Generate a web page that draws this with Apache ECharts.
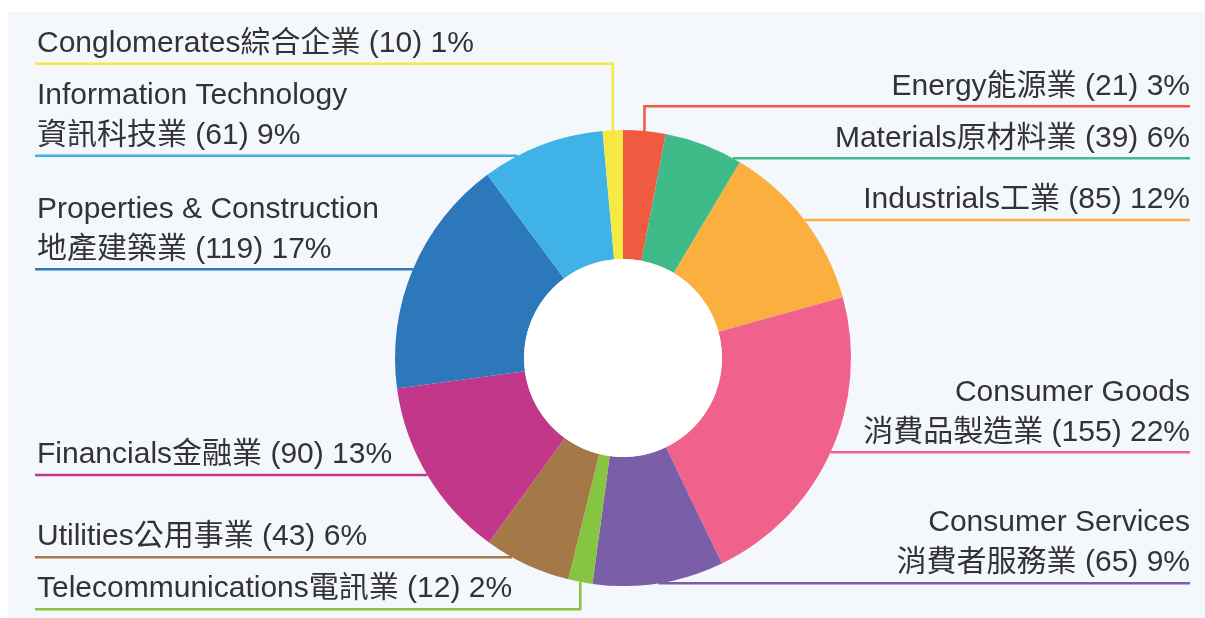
<!DOCTYPE html>
<html>
<head>
<meta charset="utf-8">
<title>Industry breakdown</title>
<script src="https://cdn.jsdelivr.net/npm/echarts@6/dist/echarts.min.js"></script>
<style>
  html, body { margin: 0; padding: 0; background: #fff; width: 1205px; height: 618px; overflow: hidden; }
  #panel { position: absolute; left: 8px; top: 12px; right: 0; bottom: 0; background: #f4f7fb; }
  #main { position: absolute; left: 22px; top: 0; width: 1183px; height: 618px; }
</style>
</head>
<body>
<div id="panel"></div>
<div id="main"></div>
<script>
// industries, clockwise from 12 o'clock
const names = [
  'Energy能源業',
  'Materials原材料業',
  'Industrials工業',
  'Consumer Goods\n消費品製造業',
  'Consumer Services\n消費者服務業',
  'Telecommunications電訊業',
  'Utilities公用事業',
  'Financials金融業',
  'Properties & Construction\n地產建築業',
  'Information Technology\n資訊科技業',
  'Conglomerates綜合企業'
]
const values = [21, 39, 85, 155, 65, 12, 43, 90, 119, 61, 10]
const colors = [
  '#f05a40', '#3fbb8a', '#fbaf3f', '#f0628c', '#7b5ea8', '#86c540',
  '#a57848', '#c2378a', '#2d77bb', '#3fb3e8', '#f5e943'
]

const CENTER = [601, 358]
const RADIUS = [99, 228]
const GAP = 12

const myChart = echarts.init(document.getElementById('main'))

const anchors = []
const lineY = []

const option = {
  animation: false,
  graphic: [{
    type: 'circle',
    silent: true,
    z: 10,
    shape: { cx: CENTER[0], cy: CENTER[1], r: RADIUS[0] },
    style: { fill: '#fff' }
  }],
  series: [{
    type: 'pie',
    center: CENTER,
    radius: RADIUS,
    startAngle: 90,
    clockwise: true,
    avoidLabelOverlap: false,
    emphasis: { scale: false },
    itemStyle: { borderWidth: 0 },
    label: {
      alignTo: 'edge',
      edgeDistance: 15,
      fontSize: 30,
      lineHeight: 40,
      color: '#333',
      fontFamily: "'Liberation Sans', 'Noto Sans CJK TC', sans-serif",
      formatter: function (p) {
        return p.name + ' (' + p.value + ') ' + Math.round(p.percent) + '%'
      }
    },
    labelLine: {
      show: true,
      length: 5,
      length2: 0,
      lineStyle: { width: 2.5 }
    },
    // first pass: just remember where echarts wants each label
    labelLayout: function (p) {
      anchors[p.dataIndex] = {
        x: p.labelLinePoints[0][0],
        y: p.labelLinePoints[0][1],
        h: p.labelRect.height
      }
      return {}
    },
    data: names.map(function (n, i) {
      return { name: n, value: values[i], itemStyle: { color: colors[i] } }
    })
  }]
}
myChart.setOption(option)

// stack labels per side, small slices give way to big ones
function stackSide(items, top, bottom) {
  items.sort(function (a, b) { return a.y - b.y })
  for (let it = 0; it < 200; it++) {
    let moved = false
    for (let k = 0; k < items.length - 1; k++) {
      const a = items[k]
      const b = items[k + 1]
      const d = (b.h + GAP) - (b.y - a.y)
      if (d > 0.01) {
        const s = a.w + b.w
        a.y -= d * b.w / s
        b.y += d * a.w / s
        moved = true
      }
    }
    const first = items[0]
    const last = items[items.length - 1]
    if (first.y - first.h < top) { first.y = top + first.h; moved = true }
    if (last.y > bottom) { last.y = bottom; moved = true }
    if (!moved) break
  }
  items.forEach(function (t) { lineY[t.i] = t.y })
}

const leftItems = []
const rightItems = []
anchors.forEach(function (a, i) {
  const t = { i: i, y: a.y, h: a.h, w: values[i] }
  if (a.x < CENTER[0]) leftItems.push(t)
  else rightItems.push(t)
})
stackSide(leftItems, 20, 615)
stackSide(rightItems, 20, 615)

myChart.setOption({
  series: [{
    labelLayout: function (p) {
      const a = anchors[p.dataIndex]
      const L = lineY[p.dataIndex]
      const r = p.labelRect
      const left = a.x < CENTER[0]
      const endX = left ? r.x - 2 : r.x + r.width
      const dy = L - CENTER[1]
      const R = RADIUS[1]
      let pts
      if (Math.abs(dy) < R - 2) {
        const sx = CENTER[0] + (left ? -1 : 1) * Math.sqrt(R * R - dy * dy)
        pts = [[sx, L], [sx, L], [endX, L]]
      } else {
        pts = [[a.x, a.y], [a.x, L], [endX, L]]
      }
      return { y: L, verticalAlign: 'bottom', labelLinePoints: pts }
    }
  }]
})
</script>
</body>
</html>
